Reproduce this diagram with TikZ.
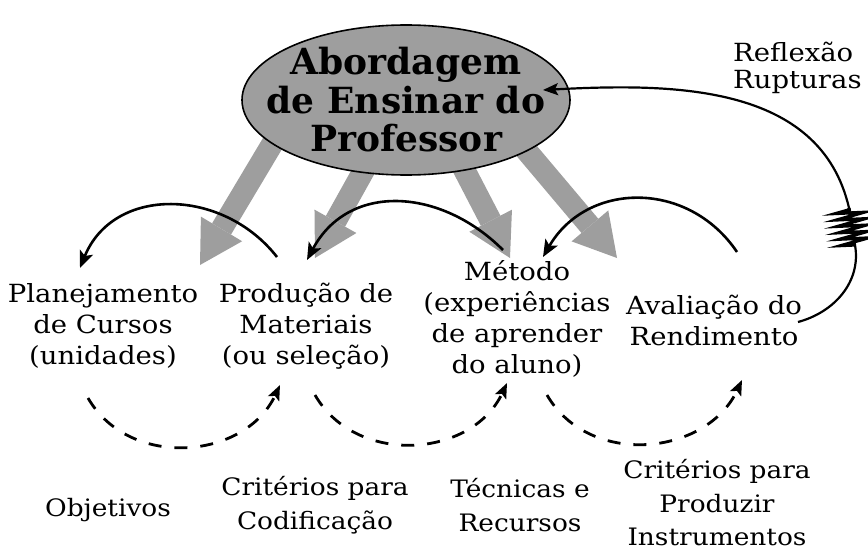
\documentclass[tikz,border=0pt]{standalone}
\usepackage{fontspec}
\setmainfont{DejaVu Serif}[FakeStretch=1.1]
\newfontfamily\titlefont{DejaVu Serif}
\usetikzlibrary{arrows.meta, decorations.pathmorphing, backgrounds, shapes.geometric}
\tikzset{TitleStyle/.style = {
			shape          = ellipse,
			draw           = black,
			line width     = 1.6pt,
			fill           = black!38,
			inner sep      = 0pt,
			minimum width  = 328pt,
			minimum height = 150pt}
			}
\tikzset{TitleText/.style = {
			align          = center,
			inner sep      = 0pt,
			font           = \titlefont\bfseries\fontsize{36}{38.5}\selectfont}
			}
\tikzset{BoxStyle/.style = {
			align          = center,
			inner sep      = 0pt,
			font           = \fontsize{25}{31}\selectfont}
			}
\tikzset{NoteStyle/.style = {
			align          = center,
			inner sep      = 0pt,
			font           = \fontsize{24}{33.5}\selectfont}
			}
\tikzset{ArcStyle/.style   = {line width=2.6pt, -{Stealth[length=17pt,width=14pt,inset=4pt]}}}
\tikzset{DashStyle/.style  = {line width=2.8pt, dash pattern=on 13pt off 13pt,
			-{Stealth[length=15pt,width=12pt,inset=3pt]}}}
\tikzset{ShadeArrow/.style = {line width=22pt, draw=black!38,
			-{Triangle[length=42pt,width=48pt,line width'=0pt]}}}
\tikzset{LoopStyle/.style  = {line width=2.2pt}}
\tikzset{CoilStyle/.style  = {line width=3.2pt, decorate,
			decoration={zigzag, amplitude=14pt, segment length=6.5pt}}}

\begin{document}
\begin{tikzpicture}[x=1pt,y=1pt]
	\useasboundingbox (0,0) rectangle (868,-551);

	\draw (406,-100) node[TitleStyle] (title) {};
	\draw (title.center) node[TitleText] (titletxt) {Abordagem\\de Ensinar do\\Professor};

	\draw (103,-326) node[BoxStyle] (plan) {Planejamento\\de Cursos\\(unidades)};
	\draw (306,-326) node[BoxStyle] (prod) {Produção de\\Materiais\\(ou seleção)};
	\draw (517,-319) node[BoxStyle] (met)  {Método\\(experiências\\de aprender\\do aluno)};
	\draw (714,-320) node[BoxStyle] (aval) {Avaliação do\\Rendimento};
	\draw (733,-68)  node[BoxStyle,align=left,anchor=west,font=\fontsize{25}{27}\selectfont] (refl) {Reflexão\\Rupturas};

	\draw (108,-510) node[NoteStyle] (obj)   {Objetivos};
	\draw (315,-505) node[NoteStyle] (cod)   {Critérios para\\Codificação};
	\draw (520,-505) node[NoteStyle] (tec)   {Técnicas e\\Recursos};
	\draw (717,-503) node[NoteStyle] (instr) {Critérios para\\Produzir\\Instrumentos};

	% wide shaded arrows out of the ellipse
	\coordinate (g1) at (200,-265);
	\coordinate (g2) at (315,-258);
	\coordinate (g3) at (510,-258);
	\coordinate (g4) at (617,-258);
	\begin{pgfonlayer}{background}
		\draw[ShadeArrow] ([shift={(-129,-36)}]title.center) -- (g1);
		\draw[ShadeArrow] ([shift={(-18,-27)}]title.center)  -- (g2);
		\draw[ShadeArrow] ([shift={(35,-25)}]title.center)   -- (g3);
		\draw[ShadeArrow] ([shift={(114,-43)}]title.center)  -- (g4);
	\end{pgfonlayer}

	% solid arcs, right to left
	\draw[ArcStyle] ([shift={(-29,69)}]prod.center) to[out=128,in=68,looseness=1.15] ([shift={(-23,58)}]plan.center);
	\draw[ArcStyle] ([shift={(-14,69)}]met.center)  to[out=135,in=62,looseness=1.15] ([shift={(1,66)}]prod.center);
	\draw[ArcStyle] ([shift={(23,68)}]aval.center)  to[out=124,in=60,looseness=1.15] ([shift={(26,62)}]met.center);

	% dashed arcs underneath
	\draw[DashStyle] ([shift={(-15,-72)}]plan.center) to[out=-60,in=-115,looseness=1.1] ([shift={(-26,-59)}]prod.center);
	\draw[DashStyle] ([shift={(9,-69)}]prod.center)   to[out=-60,in=-115,looseness=1.1] ([shift={(-10,-64)}]met.center);
	\draw[DashStyle] ([shift={(30,-76)}]met.center)   to[out=-60,in=-115,looseness=1.1] ([shift={(28,-60)}]aval.center);

	% feedback loop with the coil
	\coordinate (coilA) at (855,-245);
	\coordinate (coilB) at (849,-208);
	\draw[LoopStyle] ([shift={(84,-2)}]aval.center) to[out=15,in=-80] (coilA) -- (coilB);
	\draw[LoopStyle,-{Stealth[length=15pt,width=12pt,inset=3pt]}] (coilB) to[out=103,in=3] ([shift={(137,10)}]title.center);
	\draw[CoilStyle] (coilA) -- (coilB);
\end{tikzpicture}
\end{document}
